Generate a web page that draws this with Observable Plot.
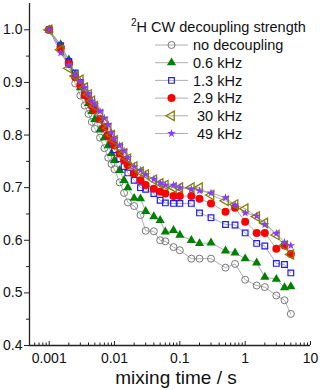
<!DOCTYPE html>
<html><head><meta charset="utf-8">
<script src="https://cdn.jsdelivr.net/npm/d3@7"></script>
<script src="https://cdn.jsdelivr.net/npm/@observablehq/plot@0.6"></script>
<style>body{margin:0;background:#fff} svg{display:block}</style>
</head><body><div id="chart"></div>
<script>
// mixing times (s)
const times = [0.001,0.0015,0.002,0.0025,0.003,0.0035,0.004,0.0045,0.005,0.006,0.007,0.008,0.009,0.01,0.012,0.014,0.016,0.02,0.025,0.03,0.04,0.05,0.06,0.08,0.1,0.15,0.2,0.3,0.5,0.7,1,1.5,2,3,4,5];
const noDecoupling = [1.0,0.965,0.935,0.898,0.875,0.856,0.84,0.825,0.812,0.795,0.775,0.757,0.745,0.735,0.71,0.69,0.672,0.665,0.648,0.618,0.617,0.60,0.598,0.587,0.581,0.565,0.565,0.565,0.548,0.555,0.525,0.514,0.511,0.495,0.486,0.46];
const dec06 = [1.0,0.972,0.943,0.915,0.89,0.875,0.86,0.845,0.83,0.81,0.795,0.78,0.765,0.752,0.733,0.714,0.70,0.68,0.679,0.655,0.645,0.638,0.616,0.619,0.61,0.60,0.594,0.595,0.58,0.576,0.565,0.557,0.53,0.526,0.51,0.512];
const dec13 = [1.0,0.97,0.94,0.918,0.90,0.885,0.875,0.86,0.85,0.83,0.815,0.80,0.785,0.772,0.755,0.74,0.728,0.714,0.70,0.697,0.689,0.676,0.671,0.670,0.670,0.670,0.652,0.643,0.630,0.629,0.614,0.594,0.589,0.556,0.554,0.538];
const dec29 = [1.0,0.965,0.935,0.91,0.895,0.876,0.868,0.855,0.848,0.83,0.815,0.80,0.79,0.78,0.765,0.752,0.743,0.727,0.714,0.705,0.698,0.692,0.689,0.684,0.684,0.684,0.679,0.670,0.654,0.662,0.635,0.614,0.614,0.584,0.59,0.574];
const dec30k = [1.0,0.962,0.927,0.912,0.905,0.89,0.877,0.865,0.855,0.84,0.825,0.813,0.80,0.79,0.776,0.765,0.755,0.74,0.73,0.725,0.715,0.708,0.705,0.70,0.70,0.70,0.70,0.686,0.675,0.668,0.66,0.645,0.633,0.61,0.59,0.573];
const dec49k = [1.0,0.956,0.933,0.914,0.902,0.89,0.878,0.865,0.858,0.845,0.832,0.82,0.805,0.793,0.78,0.77,0.757,0.74,0.733,0.725,0.716,0.709,0.705,0.705,0.70,0.697,0.694,0.69,0.681,0.667,0.652,0.646,0.630,0.613,0.596,0.59];
const seriesNames = ["no decoupling","0.6 kHz","1.3 kHz","2.9 kHz"," 30 kHz"," 49 kHz"];
const seriesValues = [noDecoupling, dec06, dec13, dec29, dec30k, dec49k];
const legendTitle = "H CW decoupling strength";
const legendTitleSup = "2";
const xLabel = "mixing time / s";
const xTicks = [0.001,0.01,0.1,1,10];
const xTickLabels = ["0.001","0.01","0.1","1","10"];
const xMinorTicks = [0.0006,0.0007,0.0008,0.0009,0.002,0.003,0.004,0.005,0.006,0.007,0.008,0.009,0.02,0.03,0.04,0.05,0.06,0.07,0.08,0.09,0.2,0.3,0.4,0.5,0.6,0.7,0.8,0.9,2,3,4,5,6,7,8,9];
const yTicks = [0.4,0.5,0.6,0.7,0.8,0.9,1.0];
const yTickLabels = ["0.4","0.5","0.6","0.7","0.8","0.9","1.0"];
const yMinorTicks = [0.45,0.55,0.65,0.75,0.85,0.95];

const styles = [
  {symbol:"circle", fill:"none", stroke:"#777", strokeWidth:1, r:3.5},
  {symbol:"triangle", fill:"#008000", stroke:"none", r:3.4},
  {symbol:"square", fill:"none", stroke:"#1c1cff", strokeWidth:1.2, r:3.2},
  {symbol:"circle", fill:"#ff0000", stroke:"none", r:4},
  {symbol:"triangle", rotate:-90, fill:"none", stroke:"#808000", strokeWidth:1.3, r:3.5},
  {symbol:"star", fill:"#8a3cf5", stroke:"none", r:2.7}
];

const rows = [];
seriesNames.forEach((s, i) => times.forEach((t, j) => rows.push({s, t, v: seriesValues[i][j]})));

const W = 320, H = 390, mT = 3, mB = 45, mL = 29, mR = 10;
const frameH = H - mT - mB;

const marks = [
  Plot.line(rows, {x:"t", y:"v", z:"s", stroke:"#999", strokeWidth:0.8}),
  ...seriesNames.map((s, i) => {
    const st = styles[i];
    return Plot.dot(rows.filter(d => d.s === s), {x:"t", y:"v", ...st});
  }),
  Plot.ruleX([0.0005], {stroke:"#222", strokeWidth:1.3}),
  Plot.ruleY([0.4], {stroke:"#222", strokeWidth:1.3}),
  Plot.axisY({ticks: yTicks, tickFormat: (d) => yTickLabels[yTicks.indexOf(d)], tickSize:5, tickPadding:2, fontSize:14, stroke:"#222", label:null}),
  Plot.axisY({ticks: yMinorTicks, tickFormat: () => "", tickSize:3, stroke:"#222", label:null}),
  Plot.axisX({ticks: xTicks, tickFormat: d => xTickLabels[xTicks.indexOf(d)], tickSize:0, tickPadding:8, fontSize:14, label:null}),
  Plot.tickX(xTicks, {x: d => d, insetTop: frameH - 4, stroke:"#222", strokeWidth:1}),
  Plot.tickX(xMinorTicks, {x: d => d, insetTop: frameH - 2.5, stroke:"#222", strokeWidth:1}),
  Plot.text([xLabel], {frameAnchor:"bottom", dy: 38, dx: 6, fontSize:19, fill:"#111", lineAnchor:"bottom"})
];

const plot = Plot.plot({
  width: W, height: H,
  marginTop: mT, marginBottom: mB, marginLeft: mL, marginRight: mR,
  style: {fontFamily: "'Liberation Sans', Arial, sans-serif", background: "#fff", color:"#111"},
  x: {type:"log", domain:[0.0005, 10], axis:null},
  y: {domain:[0.4, 1.05], axis:null},
  marks
});
document.getElementById("chart").appendChild(plot);

// legend
const svg = d3.select(plot);
const lg = svg.append("g").attr("font-family", "'Liberation Sans', Arial, sans-serif").attr("fill", "#111").attr("text-anchor", "start");
const title = lg.append("text").attr("x", 131).attr("y", 32).attr("font-size", 14.5);
title.append("tspan").attr("font-size", 10).attr("dy", -6).text(legendTitleSup);
title.append("tspan").attr("dy", 6).text(legendTitle);
const row0 = 45, step = 17.7;
const symMap = {circle: d3.symbolCircle, triangle: d3.symbolTriangle, square: d3.symbolSquare, star: d3.symbolStar};
seriesNames.forEach((s, i) => {
  const st = styles[i];
  const y = row0 + i * step;
  lg.append("line").attr("x1", 155).attr("x2", 188).attr("y1", y).attr("y2", y).attr("stroke", "#999").attr("stroke-width", 0.8);
  lg.append("path")
    .attr("d", d3.symbol(symMap[st.symbol], Math.PI * st.r * st.r)())
    .attr("transform", `translate(171.5,${y}) rotate(${st.rotate || 0})`)
    .attr("fill", st.fill).attr("stroke", st.stroke || "none").attr("stroke-width", st.strokeWidth || 1);
  lg.append("text").attr("x", 193).attr("y", y).attr("dy", "0.36em").attr("font-size", 14.5)
    .style("white-space", "pre").text(s);
});
</script></body></html>
